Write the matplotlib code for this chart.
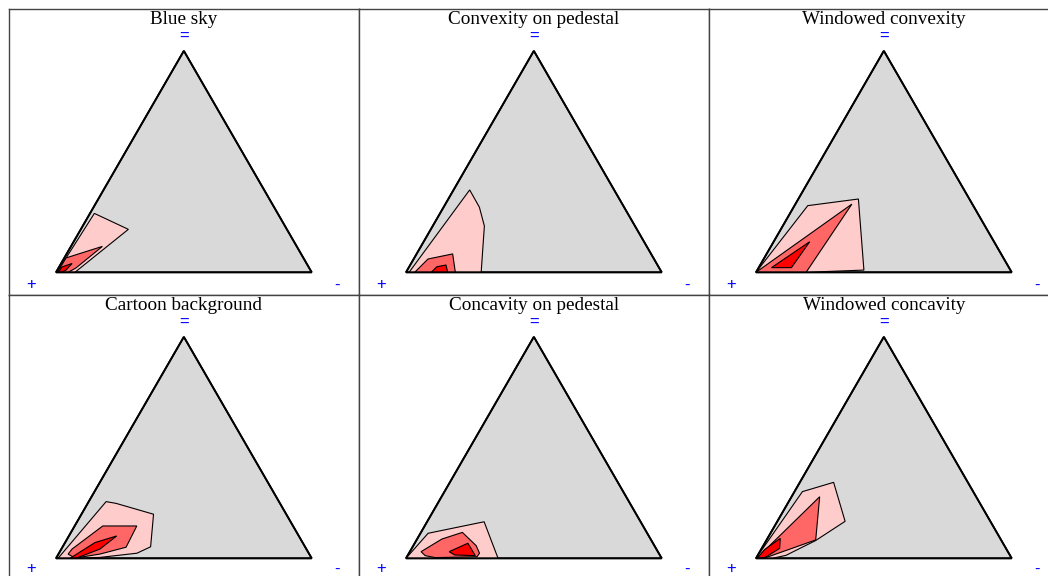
import numpy as np
import matplotlib
matplotlib.use("Agg")
import matplotlib.pyplot as plt
from matplotlib.patches import Polygon

# Panel titles, in grid order
titles = ["Blue sky", "Convexity on pedestal", "Windowed convexity",
          "Cartoon background", "Concavity on pedestal", "Windowed concavity"]

# Corner labels of the ternary diagram
corner_top, corner_left, corner_right = "=", "+", "-"

# Density regions as (equal %, minus %) compositions; plus = 100 - equal - minus
blue_sky_outer = [(0.3, 0.4), (26.6, 1.7), (19.4, 18.6), (0.0, 7.4)]
blue_sky_mid = [(0.1, 0.5), (6.5, 0.7), (11.7, 12.3), (1.9, 6.8), (0.0, 4.7)]
blue_sky_inner = [(0.0, 1.0), (2.4, 1.1), (4.0, 4.3), (1.0, 3.4), (0.0, 2.3)]

convex_ped_outer = [(0.0, 1.2), (37.2, 6.3), (29.4, 14.0), (20.9, 20.2), (0.0, 29.4)]
convex_ped_mid = [(0.0, 3.4), (6.0, 5.6), (8.3, 14.1), (0.0, 19.3)]
convex_ped_inner = [(0.0, 9.9), (2.5, 10.8), (3.3, 14.0), (0.0, 16.3)]

win_convex_outer = [(0.0, 0.0), (30.1, 5.2), (33.1, 23.5), (1.0, 41.7), (0.0, 19.6)]
win_convex_mid = [(0.0, 0.0), (30.8, 22.1), (0.0, 19.6)]
win_convex_inner = [(2.1, 5.0), (13.8, 14.1), (2.1, 12.8)]

cartoon_outer = [(0.0, 0.8), (25.6, 6.8), (24.8, 11.1), (19.9, 28.2), (5.2, 34.4),
                 (2.3, 30.5), (0.4, 17.0), (0.0, 5.5)]
cartoon_mid = [(1.9, 3.8), (4.2, 4.2), (14.6, 11.0), (14.6, 24.3), (5.0, 24.9),
               (1.9, 16.2), (0.1, 7.4)]
cartoon_inner = [(0.0, 5.5), (7.1, 11.7), (10.1, 18.7), (4.2, 15.1), (0.0, 7.8)]

concave_ped_outer = [(0.0, 0.0), (11.3, 3.0), (16.5, 22.3), (0.0, 36.0)]
concave_ped_mid = [(3.0, 4.4), (8.7, 9.7), (11.7, 16.2), (5.7, 24.6), (2.3, 27.6),
                   (0.7, 27.4), (0.3, 11.4), (1.2, 6.9)]
concave_ped_inner = [(3.0, 15.4), (6.8, 20.8), (1.2, 26.5), (1.5, 18.3)]

win_concave_outer = [(0.0, 0.0), (30.1, 3.1), (34.3, 13.2), (16.7, 26.5), (8.0, 19.3),
                     (1.3, 11.0), (0.0, 6.4)]
win_concave_mid = [(0.1, 0.3), (27.8, 11.0), (8.3, 19.2), (0.0, 3.1)]
win_concave_inner = [(0.0, 0.5), (4.0, 1.4), (9.0, 5.0), (4.5, 7.0), (0.4, 3.4)]

panel_regions = [
    (blue_sky_outer, blue_sky_mid, blue_sky_inner),
    (convex_ped_outer, convex_ped_mid, convex_ped_inner),
    (win_convex_outer, win_convex_mid, win_convex_inner),
    (cartoon_outer, cartoon_mid, cartoon_inner),
    (concave_ped_outer, concave_ped_mid, concave_ped_inner),
    (win_concave_outer, win_concave_mid, win_concave_inner),
]

level_colors = ["#FFCCCC", "#FF6666", "#FF0000"]
SQ3 = np.sqrt(3) / 2


def to_xy(comp):
    arr = np.asarray(comp, dtype=float) / 100.0
    eq, neg = arr[:, 0], arr[:, 1]
    return np.column_stack([neg + eq / 2, eq * SQ3])


W, H = 1048, 576
fig = plt.figure(figsize=(W / 100, H / 100), dpi=100)
fig.patch.set_facecolor("white")

pw, ph = 350, 286
side = 255.7
bl_x, bl_y = 47.0, 263.3  # triangle base-left inside a panel, pixels from top-left

for i, (title, regions) in enumerate(zip(titles, panel_regions)):
    r, c = divmod(i, 3)
    left = 9 + pw * c
    top = 9 + ph * r
    ax = fig.add_axes([left / W, 1 - (top + ph) / H, pw / W, ph / H])
    ax.set_xlim(-bl_x / side, (pw - bl_x) / side)
    ax.set_ylim(-(ph - bl_y) / side, bl_y / side)
    ax.set_xticks([])
    ax.set_yticks([])
    for sp in ax.spines.values():
        sp.set_color("#444444")
        sp.set_linewidth(1.0)

    tri = np.array([[0, 0], [1, 0], [0.5, SQ3]])
    ax.add_patch(Polygon(tri, closed=True, facecolor="#D9D9D9",
                         edgecolor="black", linewidth=1.3, zorder=1))
    for reg, col in zip(regions, level_colors):
        ax.add_patch(Polygon(to_xy(reg), closed=True, facecolor=col,
                             edgecolor="black", linewidth=0.8, zorder=2))
    ax.add_patch(Polygon(tri, closed=True, fill=False,
                         edgecolor="black", linewidth=1.3, zorder=3))

    ax.text(0.5, (bl_y - 15.0) / side, title, ha="center", va="baseline",
            fontsize=13.8, family="Liberation Serif", color="black")
    ax.text(0.5, (bl_y - 27.7) / side, corner_top, ha="center", va="center",
            fontsize=12, family="Liberation Sans", color="blue")
    # the lower row runs past the bottom edge, so keep its corner labels in view
    label_y = 276.0 if r == 0 else 274.0
    ax.text((21.7 - bl_x) / side, (bl_y - label_y) / side, corner_left, ha="center",
            va="center", fontsize=12, family="Liberation Sans", color="blue")
    ax.text((327.7 - bl_x) / side, (bl_y - label_y) / side, corner_right, ha="center",
            va="center", fontsize=12, family="Liberation Sans", color="blue")

fig.savefig("out.png", dpi=100)
